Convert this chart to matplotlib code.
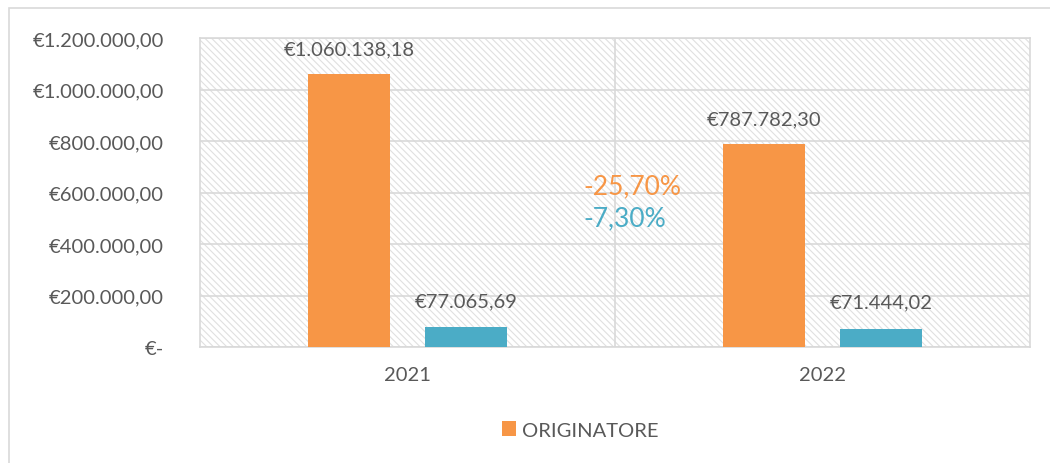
import matplotlib
matplotlib.use("Agg")
import matplotlib.pyplot as plt
from matplotlib.patches import Rectangle

years = ["2021", "2022"]
originatore = [1060138.18, 787782.30]
altro = [77065.69, 71444.02]
labels_orig = ["€1.060.138,18", "€787.782,30"]
labels_altro = ["€77.065,69", "€71.444,02"]
yticks = [0, 200000, 400000, 600000, 800000, 1000000, 1200000]
ytick_labels = ["€-", "€200.000,00", "€400.000,00", "€600.000,00",
                "€800.000,00", "€1.000.000,00", "€1.200.000,00"]
var_orig = "-25,70%"
var_altro = "-7,30%"

orange = "#F79646"
teal = "#4BACC6"
txt = "#595959"
grid = "#D9D9D9"

plt.rcParams["font.family"] = ["Lato", "DejaVu Sans"]
plt.rcParams["hatch.linewidth"] = 0.8

fig = plt.figure(figsize=(10.5, 4.64), dpi=100)
# outer chart frame
fig.patches.append(Rectangle((9 / 1050, -0.1), 1.2, (464 - 9) / 464 + 0.1,
                             transform=fig.transFigure, fill=False,
                             edgecolor=grid, linewidth=1.2))

ax = fig.add_axes([200 / 1050, 1 - 348 / 464, 830 / 1050, 309 / 464])
ax.set_facecolor("white")
ax.add_patch(Rectangle((0, 0), 1, 1, transform=ax.transAxes, facecolor="white",
                       edgecolor="#E0E0E0", linewidth=0, hatch="\\\\\\\\\\",
                       zorder=0))

x = range(len(years))
w = 0.198
off = 0.141
b1 = ax.bar([i - off for i in x], originatore, w, color=orange, zorder=3,
            label="ORIGINATORE")
b2 = ax.bar([i + off for i in x], altro, w, color=teal, zorder=3)

for rect, lab in zip(b1, labels_orig):
    ax.annotate(lab, (rect.get_x() + rect.get_width() / 2, rect.get_height()),
                xytext=(0, 18), textcoords="offset points", ha="center",
                va="center", fontsize=14.5, color=txt)
for rect, lab in zip(b2, labels_altro):
    ax.annotate(lab, (rect.get_x() + rect.get_width() / 2, rect.get_height()),
                xytext=(0, 19), textcoords="offset points", ha="center",
                va="center", fontsize=14.5, color=txt)

# variazioni anno su anno
ax.text(0.423, 625000, var_orig, ha="left", va="center", fontsize=19,
        color=orange, zorder=4)
ax.text(0.423, 500000, var_altro, ha="left", va="center", fontsize=19,
        color=teal, zorder=4)

ax.set_xlim(-0.5, 1.5)
ax.set_ylim(0, 1200000)
ax.set_yticks(yticks)
ax.set_yticklabels(ytick_labels)
ax.set_xticks(list(x))
ax.set_xticklabels(years)
ax.tick_params(axis="both", length=0, labelsize=14.5, labelcolor=txt)
ax.tick_params(axis="y", pad=26)
ax.tick_params(axis="x", pad=14)

ax.grid(axis="y", color=grid, linewidth=1.2, zorder=1)
ax.axvline(0.5, color=grid, linewidth=1.2, zorder=1)
for s in ax.spines.values():
    s.set_color(grid)
    s.set_linewidth(1.2)

leg = fig.legend(handles=[b1], loc="center", bbox_to_anchor=(580 / 1050, 1 - 431 / 464),
                 frameon=False, fontsize=14.5, handlelength=0.7, handleheight=0.7,
                 handletextpad=0.3)
for t in leg.get_texts():
    t.set_color(txt)

fig.savefig("out.png", dpi=100)
